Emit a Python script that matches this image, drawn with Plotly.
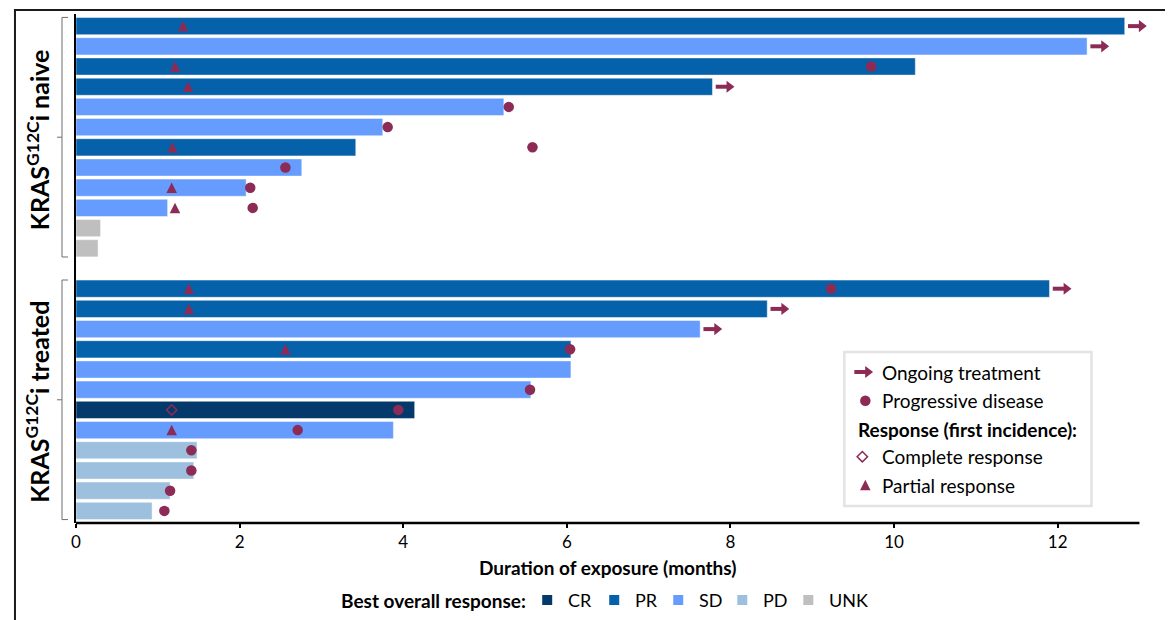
import plotly.graph_objects as go

# ---------------- data ----------------
group_labels = ["<b>KRAS<sup>G12C</sup>i naive</b>", "<b>KRAS<sup>G12C</sup>i treated</b>"]

naive_duration = [12.82, 12.36, 10.26, 7.78, 5.23, 3.75, 3.42, 2.76, 2.08, 1.12, 0.30, 0.27]
naive_bor = ["PR", "SD", "PR", "PR", "SD", "SD", "PR", "SD", "SD", "SD", "UNK", "UNK"]
naive_ongoing = [True, True, False, True, False, False, False, False, False, False, False, False]
naive_pd_time = [None, None, 9.72, None, 5.29, 3.81, 5.58, 2.56, 2.13, 2.16, None, None]
naive_pr_time = [1.31, None, 1.21, 1.37, None, None, 1.18, None, 1.17, 1.21, None, None]
naive_cr_time = [None] * 12

treated_duration = [11.90, 8.45, 7.63, 6.05, 6.05, 5.56, 4.14, 3.88, 1.48, 1.44, 1.15, 0.93]
treated_bor = ["PR", "PR", "SD", "PR", "SD", "SD", "CR", "SD", "PD", "PD", "PD", "PD"]
treated_ongoing = [True, True, True, False, False, False, False, False, False, False, False, False]
treated_pd_time = [9.23, None, None, 6.04, None, 5.55, 3.94, 2.71, 1.41, 1.41, 1.15, 1.08]
treated_pr_time = [1.38, 1.38, None, 2.56, None, None, None, 1.17, None, None, None, None]
treated_cr_time = [None, None, None, None, None, None, 1.17, None, None, None, None, None]

bor_categories = ["CR", "PR", "SD", "PD", "UNK"]
bor_colors = ["#043a6b", "#0561a9", "#669cfe", "#9cc0de", "#bfbfbf"]
event_color = "#8c2b56"

x_ticks = [0, 2, 4, 6, 8, 10, 12]
x_axis_end = 13
x_title = "<b>Duration of exposure (months)</b>"
legend_items = ["Ongoing treatment", "Progressive disease", "<b>Response (first incidence):</b>",
                "Complete response", "Partial response"]
bottom_legend_title = "<b>Best overall response:</b>"

FONT = "Lato"

# ---------------- layout geometry (screen pixels; page has an 8px body margin) ----------------
OFF = 8
W, H = 1173 - OFF, 620 - OFF
X_RANGE = [0, 13.3]                       # a little room right of the axis end for arrow heads
PX_PER_MONTH = (1139 - 76) / x_axis_end
PLOT_L, PLOT_T, PLOT_B = 76, 14, 523      # screen coordinates of the plot area
PLOT_R = PLOT_L + PX_PER_MONTH * X_RANGE[1]
ML, MR, MT, MB = PLOT_L - OFF, W - (PLOT_R - OFF), PLOT_T - OFF, H - (PLOT_B - OFF)
PW, PH = PLOT_R - PLOT_L, PLOT_B - PLOT_T
ROW_PX = 20.2


def px(x):
    return (x - PLOT_L) / PW


def py(y):
    return (PLOT_B - y) / PH


# assemble rows: naive rows, one empty slot, treated rows
durations = naive_duration + treated_duration
bors = naive_bor + treated_bor
ongoing = naive_ongoing + treated_ongoing
pd_time = naive_pd_time + treated_pd_time
pr_time = naive_pr_time + treated_pr_time
cr_time = naive_cr_time + treated_cr_time
rows = list(range(len(naive_duration))) + [len(naive_duration) + 1 + i for i in range(len(treated_duration))]
group_rows = [rows[:len(naive_duration)], rows[len(naive_duration):]]

fig = go.Figure()

# bars
for cat, col in zip(bor_categories, bor_colors):
    xs = [d for d, b in zip(durations, bors) if b == cat]
    ys = [r for r, b in zip(rows, bors) if b == cat]
    fig.add_trace(go.Bar(x=xs, y=ys, orientation="h", width=0.85, name=cat,
                         marker=dict(color=col, line=dict(color="rgba(255,255,255,0.45)", width=1)),
                         showlegend=False, hoverinfo="x"))

# ongoing arrows
shaft_x, shaft_y, head_x, head_y = [], [], [], []
for d, r, o in zip(durations, rows, ongoing):
    if o:
        shaft_x += [d + 0.04, d + 0.20, None]
        shaft_y += [r, r, None]
        head_x.append(d + 0.205)
        head_y.append(r)
fig.add_trace(go.Scatter(x=shaft_x, y=shaft_y, mode="lines", line=dict(color=event_color, width=4),
                         showlegend=False, hoverinfo="skip", cliponaxis=False))
fig.add_trace(go.Scatter(x=head_x, y=head_y, mode="markers", cliponaxis=False,
                         marker=dict(symbol="triangle-right", size=10.5, color=event_color),
                         showlegend=False, hoverinfo="skip"))

# progressive disease
fig.add_trace(go.Scatter(x=[t for t in pd_time if t is not None],
                         y=[r for t, r in zip(pd_time, rows) if t is not None],
                         mode="markers", marker=dict(symbol="circle", size=10.5, color=event_color),
                         showlegend=False, cliponaxis=False))
# partial response (arrow-up symbol has its tip at the point -> lift by half its height)
TRI = 10.5
tri_shift = (TRI / 2) / ROW_PX
fig.add_trace(go.Scatter(x=[t for t in pr_time if t is not None],
                         y=[r - tri_shift for t, r in zip(pr_time, rows) if t is not None],
                         mode="markers", marker=dict(symbol="arrow-up", size=TRI, color=event_color),
                         showlegend=False, cliponaxis=False))
# complete response
fig.add_trace(go.Scatter(x=[t for t in cr_time if t is not None],
                         y=[r for t, r in zip(cr_time, rows) if t is not None],
                         mode="markers",
                         marker=dict(symbol="diamond-open", size=8, color=event_color,
                                     line=dict(color=event_color, width=1.5)),
                         showlegend=False, cliponaxis=False))

# ---------- legend box glyphs on an overlay (paper-like) axis ----------
leg_y_px = [372, 400.7, 429, 456.7, 485]
leg_y = [py(v) for v in leg_y_px]
fig.add_trace(go.Scatter(x=[px(854), px(866.5)], y=[leg_y[0], leg_y[0]], mode="lines",
                         line=dict(color=event_color, width=4), xaxis="x2", yaxis="y2",
                         showlegend=False, hoverinfo="skip"))
fig.add_trace(go.Scatter(x=[px(867.5)], y=[leg_y[0]], mode="markers",
                         marker=dict(symbol="triangle-right", size=10.5, color=event_color),
                         xaxis="x2", yaxis="y2", showlegend=False, hoverinfo="skip"))
fig.add_trace(go.Scatter(x=[px(865)], y=[leg_y[1]], mode="markers",
                         marker=dict(symbol="circle", size=10.5, color=event_color),
                         xaxis="x2", yaxis="y2", showlegend=False, hoverinfo="skip"))
fig.add_trace(go.Scatter(x=[px(862)], y=[leg_y[3]], mode="markers",
                         marker=dict(symbol="diamond-open", size=8, color=event_color,
                                     line=dict(color=event_color, width=1.5)),
                         xaxis="x2", yaxis="y2", showlegend=False, hoverinfo="skip"))
fig.add_trace(go.Scatter(x=[px(865)], y=[py(leg_y_px[4] - TRI / 2)], mode="markers",
                         marker=dict(symbol="arrow-up", size=TRI, color=event_color),
                         xaxis="x2", yaxis="y2", showlegend=False, hoverinfo="skip"))

shapes = []
annotations = []

# x axis baseline ending at 13 months
shapes.append(dict(type="line", xref="x", yref="paper", x0=-2 / PX_PER_MONTH, x1=x_axis_end, y0=0, y1=0,
                   line=dict(color="#000", width=2.5)))

# legend box
shapes.append(dict(type="rect", xref="paper", yref="paper", x0=px(844), x1=px(1091), y0=py(506), y1=py(352),
                   line=dict(color="#e3e3e3", width=2.5), fillcolor="rgba(255,255,255,0)", layer="below"))
for i, (txt, yy) in enumerate(zip(legend_items, leg_y)):
    annotations.append(dict(text=txt, xref="paper", yref="paper", x=px(856 if i == 2 else 880), y=yy,
                            xanchor="left", yanchor="middle", showarrow=False,
                            font=dict(family=FONT, size=19, color="#000")))

# brackets and group labels
for gr, lab in zip(group_rows, group_labels):
    top, bot = gr[0] - 0.43, gr[-1] + 0.43
    mid = (gr[0] + gr[-1]) / 2
    shapes.append(dict(type="path", xref="paper", yref="y",
                       path=f"M {px(68)},{top} L {px(62)},{top} L {px(62)},{bot} L {px(68)},{bot}",
                       line=dict(color="#6e6e6e", width=1)))
    shapes.append(dict(type="line", xref="paper", yref="y", x0=px(57), x1=px(62), y0=mid, y1=mid,
                       line=dict(color="#6e6e6e", width=1)))
    annotations.append(dict(text=lab, xref="paper", yref="y", x=px(38), y=mid + 0.1, textangle=-90,
                            xanchor="center", yanchor="middle", showarrow=False,
                            font=dict(family=FONT, size=25, color="#000")))

# outer frame (left and top)
shapes.append(dict(type="path", xref="paper", yref="paper",
                   path=f"M {px(15)},{py(640)} L {px(15)},{py(10)} L {px(1180)},{py(10)}",
                   line=dict(color="#1a1a1a", width=2)))

# x-axis title
annotations.append(dict(text=x_title, xref="paper", yref="paper", x=px(607), y=py(567),
                        xanchor="center", yanchor="middle", showarrow=False,
                        font=dict(family=FONT, size=19, color="#000")))

# bottom legend
annotations.append(dict(text=bottom_legend_title, xref="paper", yref="paper", x=px(528), y=py(600),
                        xanchor="right", yanchor="middle", showarrow=False,
                        font=dict(family=FONT, size=19, color="#000")))
text_starts = [566, 633, 697, 761, 827]
for cat, col, xs in zip(bor_categories, bor_colors, text_starts):
    c = xs - 19
    shapes.append(dict(type="rect", xref="paper", yref="paper", x0=px(c - 5), x1=px(c + 5),
                       y0=py(605), y1=py(595), line=dict(width=0), fillcolor=col))
    annotations.append(dict(text=cat, xref="paper", yref="paper", x=px(xs), y=py(600),
                            xanchor="left", yanchor="middle", showarrow=False,
                            font=dict(family=FONT, size=18, color="#000")))

fig.update_layout(
    width=W, height=H,
    margin=dict(l=ML, r=MR, t=MT, b=MB),
    paper_bgcolor="white", plot_bgcolor="white",
    barmode="overlay",
    showlegend=False,
    font=dict(family=FONT, color="#000"),
    xaxis=dict(range=X_RANGE, tickvals=x_ticks, ticks="outside", ticklen=4, tickwidth=2, tickcolor="#000",
               showline=False, showgrid=False, zeroline=False,
               tickfont=dict(family=FONT, size=17, color="#000")),
    yaxis=dict(range=[24.6, -0.6], showline=True, linewidth=2, linecolor="#000", showgrid=False,
               zeroline=False, showticklabels=False, ticks=""),
    xaxis2=dict(overlaying="x", range=[0, 1], visible=False, fixedrange=True),
    yaxis2=dict(overlaying="y", range=[0, 1], visible=False, fixedrange=True),
    shapes=shapes,
    annotations=annotations,
)

fig.write_html("out.html")
